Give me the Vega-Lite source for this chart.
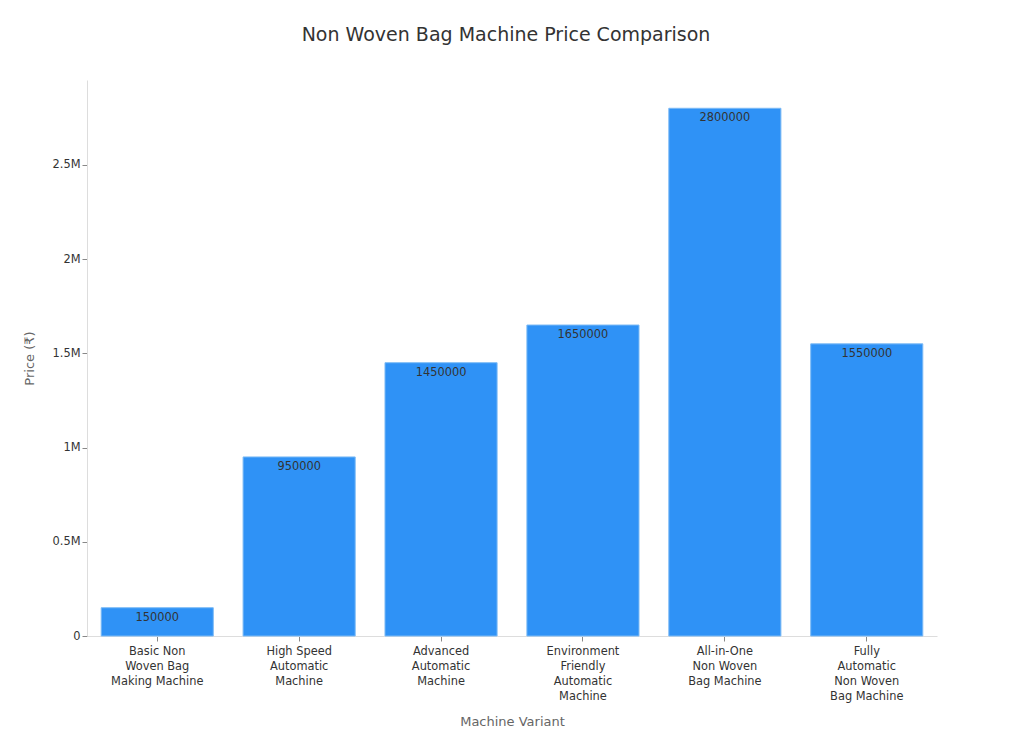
{
  "$schema": "https://vega.github.io/schema/vega-lite/v6.json",
  "width": 850,
  "height": 556,
  "autosize": {"type": "none"},
  "padding": {"left": 87, "top": 80, "right": 93, "bottom": 108},
  "background": "white",
  "config": {
    "font": "DejaVu Sans",
    "view": {"stroke": null},
    "axis": {"grid": false, "domainColor": "#dddddd", "tickColor": "#888888", "labelColor": "#333333", "titleColor": "#666666", "labelFontSize": 11.4, "titleFontSize": 13, "titleFontWeight": "normal", "labelFont": "DejaVu Sans", "titleFont": "DejaVu Sans"}
  },
  "title": {"text": "Non Woven Bag Machine Price Comparison", "fontSize": 19, "fontWeight": "normal", "color": "#333333", "font": "DejaVu Sans", "anchor": "middle", "offset": 35, "dx": -6},
  "data": {
    "values": [
      {"machine": "Basic Non Woven Bag Making Machine", "price": 150000},
      {"machine": "High Speed Automatic Machine", "price": 950000},
      {"machine": "Advanced Automatic Machine", "price": 1450000},
      {"machine": "Environment Friendly Automatic Machine", "price": 1650000},
      {"machine": "All-in-One Non Woven Bag Machine", "price": 2800000},
      {"machine": "Fully Automatic Non Woven Bag Machine", "price": 1550000}
    ]
  },
  "encoding": {
    "x": {
      "field": "machine", "type": "nominal", "sort": null,
      "title": "Machine Variant",
      "scale": {"paddingInner": 0.21, "paddingOuter": 0.1},
      "axis": {
        "labelAngle": 0, "labelLineHeight": 15, "labelPadding": 4, "tickSize": 5, "titlePadding": 14,
        "labelExpr": "datum.label == 'Basic Non Woven Bag Making Machine' ? ['Basic Non','Woven Bag','Making Machine'] : datum.label == 'High Speed Automatic Machine' ? ['High Speed','Automatic','Machine'] : datum.label == 'Advanced Automatic Machine' ? ['Advanced','Automatic','Machine'] : datum.label == 'Environment Friendly Automatic Machine' ? ['Environment','Friendly','Automatic','Machine'] : datum.label == 'All-in-One Non Woven Bag Machine' ? ['All-in-One','Non Woven','Bag Machine'] : ['Fully','Automatic','Non Woven','Bag Machine']"
      }
    },
    "y": {
      "field": "price", "type": "quantitative",
      "title": "Price (₹)",
      "scale": {"domain": [0, 2950000], "nice": false},
      "axis": {
        "values": [0, 500000, 1000000, 1500000, 2000000, 2500000],
        "labelExpr": "datum.value == 0 ? '0' : format(datum.value / 1000000, '~g') + 'M'",
        "tickSize": 5, "labelPadding": 2, "titlePadding": 16
      }
    }
  },
  "layer": [
    {"mark": {"type": "bar", "color": "#2f92f6", "stroke": "#7cbaf5", "strokeWidth": 1}},
    {"mark": {"type": "text", "baseline": "top", "dy": 4, "fontSize": 11.4, "color": "#333333", "font": "DejaVu Sans"},
     "encoding": {"text": {"field": "price", "type": "quantitative", "format": "d"}}}
  ]
}
